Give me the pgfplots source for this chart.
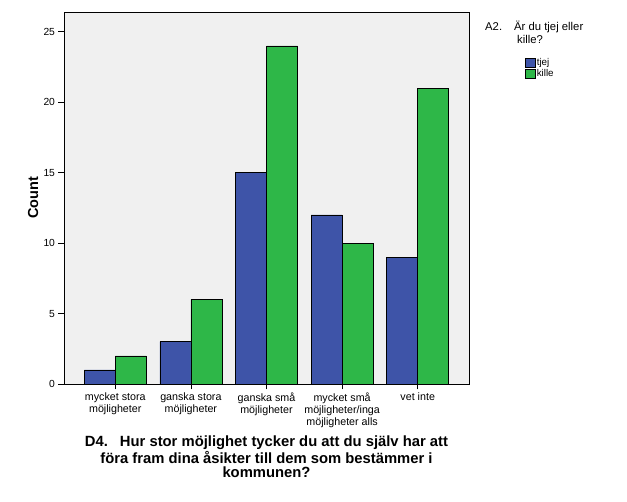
\documentclass[border=0pt]{standalone}
\usepackage{pgfplots}
\pgfplotsset{compat=1.18}
\usepackage{fontspec}
\setmainfont{Liberation Sans}
\definecolor{spssblue}{RGB}{62,84,168}
\definecolor{spssgreen}{RGB}{46,183,72}
\definecolor{spssbg}{RGB}{240,240,240}
\begin{document}
\begin{tikzpicture}[x=1pt,y=1pt]
\useasboundingbox (0,0) rectangle (627,502);
\begin{axis}[
  at={(64pt,118pt)}, anchor=south west,
  scale only axis, width=405pt, height=372pt,
  xmin=-0.678, xmax=4.678, ymin=0, ymax=26.4,
  enlargelimits=false,
  ybar=0pt, bar width=31pt,
  axis background/.style={fill=spssbg},
  axis line style={black, line width=0.8pt},
  xtick={0,1,2,3,4},
  xticklabels={{mycket stora\\möjligheter},{ganska stora\\möjligheter},{ganska små\\möjligheter},{mycket små\\möjligheter/inga\\möjligheter alls},{vet inte}},
  ytick={0,5,10,15,20,25},
  tick align=outside, xtick pos=bottom, ytick pos=left,
  major tick length=5.5pt,
  tick style={black, line width=0.6pt},
  /pgf/number format/assume math mode=true,
  yticklabel style={font=\fontsize{10.3}{11}\selectfont},
  xticklabel style={align=center, font=\fontsize{10.7}{11.7}\selectfont},
  ylabel={Count},
  ylabel style={font=\bfseries\fontsize{14.5}{14.5}\selectfont, at={(axis description cs:-0.0765,0.5)}, anchor=center},
  xlabel={D4.\hspace{12pt}Hur stor möjlighet tycker du att du själv har att\\föra fram dina åsikter till dem som bestämmer i\\kommunen?},
  xlabel style={align=center, font=\bfseries\fontsize{14.8}{14.3}\selectfont, at={(axis description cs:0.5,-0.196)}, anchor=center},
  legend style={at={(axis description cs:1.138,0.879)}, anchor=north west, draw=none, fill=none, inner sep=0pt,
    font=\fontsize{9.8}{10}\selectfont, row sep=0.5pt, nodes={inner sep=1.1pt}},
  legend cell align=left,
  legend image code/.code={\draw[#1] (0pt,-4.5pt) rectangle (10pt,4.5pt);},
]
\addplot[fill=spssblue, draw=black, line width=0.6pt] coordinates {(0,1) (1,3) (2,15) (3,12) (4,9)};
\addplot[fill=spssgreen, draw=black, line width=0.6pt] coordinates {(0,2) (1,6) (2,24) (3,10) (4,21)};
\legend{tjej,kille}
\end{axis}
\begin{scope}[every node/.style={inner sep=0pt, anchor=base west, font=\fontsize{11.3}{12.7}\selectfont}]
\node at (485,471.3) {A2.};
\node at (514,471.3) {Är du tjej eller};
\node at (517,458.7) {kille?};
\end{scope}
\end{tikzpicture}
\end{document}
